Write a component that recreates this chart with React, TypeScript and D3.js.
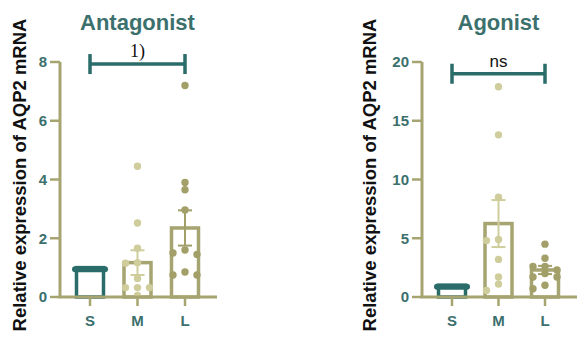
import React from "react";
import * as d3 from "d3";

// ---- data ----
const groups = ["S", "M", "L"];

const antagonistMeans = [1.0, 1.17, 2.35];
const antagonistSem = [0, 0.42, 0.6];
const antagonistS: number[] = [];
const antagonistM = [4.45, 2.52, 1.66, 1.17, 1.15, 0.63, 0.32, 0.32, 0.32, 0.05];
const antagonistL = [7.2, 3.9, 3.65, 2.96, 1.6, 1.5, 1.45, 0.85, 0.75, 0.75];
const antagonistTicks = [0, 2, 4, 6, 8];

const agonistMeans = [1.0, 6.25, 2.3];
const agonistSem = [0, 2.0, 0.35];
const agonistS: number[] = [];
const agonistM = [17.9, 13.8, 8.5, 4.9, 4.8, 3.2, 1.7, 1.1, 0.55];
const agonistL = [4.5, 3.3, 2.6, 2.6, 2.3, 2.0, 1.7, 1.7, 1.0, 0.7];
const agonistTicks = [0, 5, 10, 15, 20];

const yLabel = "Relative expression of AQP2 mRNA";

// ---- colours ----
const TEAL = "#2a6c69";
const TITLE = "#3b706d";
const AXIS = "#a6a470";
const LIGHT = "#cfcd9c";
const DARK = "#a29f69";
const barColors = [TEAL, AXIS, AXIS];
const dotColors = [TEAL, LIGHT, DARK];

const FONT = "'Liberation Sans', Arial, sans-serif";

// simple dodge so overlapping dots spread sideways (max 3 columns)
function dodge(values: number[], y: d3.ScaleLinear<number, number>, r: number) {
  const placed: { v: number; dx: number }[] = [];
  const step = 12;
  const tries = [0, -step, step];
  const sorted = [...values].sort((a, b) => b - a);
  sorted.forEach((v) => {
    const gap = (t: number) =>
      d3.min(placed, (p) => Math.hypot(p.dx - t, y(p.v) - y(v))) ?? Infinity;
    let dx = tries.find((t) => gap(t) >= r * 1.9);
    if (dx === undefined) dx = tries.reduce((a, b) => (gap(b) > gap(a) ? b : a));
    placed.push({ v, dx });
  });
  return placed;
}

type PanelProps = {
  title: string;
  means: number[];
  sem: number[];
  points: number[][];
  ticks: number[];
  yMax: number;
  xAxis: [number, number];
  catRange: [number, number];
  labelX: number;
  sigText: string;
  sigValue: number;
  sigSerif: boolean;
};

const Panel = ({
  title,
  means,
  sem,
  points,
  ticks,
  yMax,
  xAxis,
  catRange,
  labelX,
  sigText,
  sigValue,
  sigSerif,
}: PanelProps) => {
  const y = d3.scaleLinear().domain([0, yMax]).range([297, 62]);
  const x = d3.scalePoint<string>().domain(groups).range(catRange);
  const barW = 27;
  const r = 3.7;
  const [ax0, ax1] = xAxis;
  const titleX = (x("S")! + x("L")!) / 2;
  const sx0 = x("S")!;
  const sx1 = x("L")!;
  const sy = y(sigValue);

  return (
    <g>
      {/* y label */}
      <text
        transform={`translate(${labelX},175) rotate(-90)`}
        textAnchor="middle"
        fontFamily={FONT}
        fontWeight="bold"
        fontSize={18.5}
        fill="#111"
      >
        {yLabel}
      </text>

      {/* title */}
      <text
        x={titleX}
        y={30}
        textAnchor="middle"
        fontFamily={FONT}
        fontWeight="bold"
        fontSize={22}
        fill={TITLE}
      >
        {title}
      </text>

      {/* bars */}
      {groups.map((g, i) => (
        <g key={g}>
          <rect
            x={x(g)! - barW / 2}
            y={y(means[i])}
            width={barW}
            height={y(0) - y(means[i])}
            fill="none"
            stroke={barColors[i]}
            strokeWidth={3.5}
          />
          {sem[i] === 0 && (
            <line
              x1={x(g)! - barW / 2 - 1.5}
              x2={x(g)! + barW / 2 + 1.5}
              y1={y(means[i]) + 1.5}
              y2={y(means[i]) + 1.5}
              stroke={barColors[i]}
              strokeWidth={6}
              strokeLinecap="round"
            />
          )}
        </g>
      ))}

      {/* dots */}
      {groups.map((g, i) =>
        dodge(points[i], y, r).map((p, j) => (
          <circle
            key={g + j}
            cx={x(g)! + p.dx}
            cy={y(p.v)}
            r={r}
            fill={dotColors[i]}
          />
        ))
      )}

      {/* error bars */}
      {groups.map((g, i) =>
        sem[i] > 0 ? (
          <g key={"e" + g} stroke={dotColors[i]} strokeWidth={2}>
            <line x1={x(g)} x2={x(g)} y1={y(means[i] - sem[i])} y2={y(means[i] + sem[i])} />
            <line x1={x(g)! - 7} x2={x(g)! + 7} y1={y(means[i] + sem[i])} y2={y(means[i] + sem[i])} />
            <line x1={x(g)! - 7} x2={x(g)! + 7} y1={y(means[i] - sem[i])} y2={y(means[i] - sem[i])} />
          </g>
        ) : null
      )}

      {/* axes */}
      <line x1={ax0} x2={ax0} y1={y(yMax)} y2={y(0)} stroke={AXIS} strokeWidth={3} />
      <line x1={ax0 - 1.5} x2={ax1} y1={y(0)} y2={y(0)} stroke={AXIS} strokeWidth={3} />
      {ticks.map((t) => (
        <g key={t}>
          <line x1={ax0 - 10} x2={ax0} y1={y(t)} y2={y(t)} stroke={AXIS} strokeWidth={2.5} />
          <text
            x={ax0 - 13}
            y={y(t)}
            dy="0.36em"
            textAnchor="end"
            fontFamily={FONT}
            fontWeight="bold"
            fontSize={15}
            fill={TITLE}
          >
            {t}
          </text>
        </g>
      ))}
      {groups.map((g) => (
        <g key={"t" + g}>
          <line x1={x(g)} x2={x(g)} y1={y(0)} y2={y(0) + 9} stroke={AXIS} strokeWidth={2.5} />
          <text
            x={x(g)}
            y={326}
            textAnchor="middle"
            fontFamily={FONT}
            fontWeight="bold"
            fontSize={15}
            fill={TITLE}
          >
            {g}
          </text>
        </g>
      ))}

      {/* significance bracket */}
      <g stroke={TEAL} strokeWidth={3.5}>
        <line x1={sx0} x2={sx1} y1={sy} y2={sy} />
        <line x1={sx0} x2={sx0} y1={sy - 10} y2={sy + 10} />
        <line x1={sx1} x2={sx1} y1={sy - 10} y2={sy + 10} />
      </g>
      <text
        x={(sx0 + sx1) / 2}
        y={sy - 7}
        textAnchor="middle"
        fontFamily={sigSerif ? "'Liberation Serif', 'Times New Roman', serif" : FONT}
        fontSize={sigSerif ? 18 : 17}
        fill="#111"
      >
        {sigText}
      </text>
    </g>
  );
};

export default function App() {
  return (
    <svg width={577} height={343} style={{ position: "absolute", left: 0, top: 0, background: "#fff" }}>
      <Panel
        title="Antagonist"
        means={antagonistMeans}
        sem={antagonistSem}
        points={[antagonistS, antagonistM, antagonistL]}
        ticks={antagonistTicks}
        yMax={8}
        xAxis={[60, 217]}
        catRange={[90, 185]}
        labelX={26}
        sigText="1)"
        sigValue={7.93}
        sigSerif={true}
      />
      <Panel
        title="Agonist"
        means={agonistMeans}
        sem={agonistSem}
        points={[agonistS, agonistM, agonistL]}
        ticks={agonistTicks}
        yMax={20}
        xAxis={[422, 580]}
        catRange={[452, 545]}
        labelX={376}
        sigText="ns"
        sigValue={19}
        sigSerif={false}
      />
    </svg>
  );
}
